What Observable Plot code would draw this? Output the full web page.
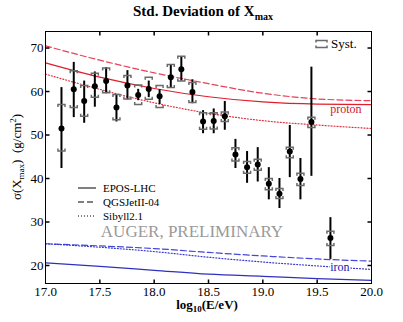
<!DOCTYPE html>
<html><head><meta charset="utf-8">
<script src="https://cdn.jsdelivr.net/npm/d3@7"></script>
<script src="https://cdn.jsdelivr.net/npm/@observablehq/plot@0.6"></script>
<style>body{margin:0;background:#fff}</style>
</head><body><div id="chart"></div>
<script>
// Data points: log10(E/eV), sigma(Xmax), stat and syst bounds
const energy = [17.147, 17.26, 17.356, 17.454, 17.558, 17.653, 17.754, 17.853, 17.95, 18.05, 18.153, 18.25, 18.352, 18.45, 18.548, 18.65, 18.748, 18.855, 18.953, 19.055, 19.153, 19.248, 19.346, 19.447, 19.622];
const sigma  = [51.5, 60.5, 57.8, 61.2, 62.4, 56.3, 61.4, 59.2, 60.6, 58.9, 63.3, 65.1, 59.9, 53.1, 53.2, 54.3, 45.5, 42.6, 43.2, 38.8, 36.5, 46.2, 39.9, 53.0, 26.3];
const statLo = [42.3, 54.0, 52.7, 56.4, 59.5, 53.0, 58.1, 57.9, 58.6, 57.0, 60.9, 62.4, 57.2, 50.3, 50.3, 51.1, 42.3, 38.9, 39.2, 35.1, 33.1, 40.2, 35.1, 40.5, 21.4];
const statHi = [60.9, 66.7, 62.4, 64.5, 65.5, 59.1, 64.8, 60.5, 62.4, 60.4, 66.2, 67.9, 62.7, 55.6, 56.0, 57.7, 49.0, 46.2, 47.1, 42.5, 40.0, 52.2, 44.6, 65.6, 31.0];
const sysLo  = [46.3, 56.3, 54.3, 58.7, 59.7, 53.5, 58.3, 57.0, 58.2, 56.3, 60.9, 62.4, 57.5, 51.3, 51.4, 53.1, 44.0, 41.2, 41.9, 37.4, 35.4, 44.8, 38.4, 51.7, 24.6];
const sysHi  = [57.0, 64.8, 61.4, 64.2, 65.4, 59.3, 63.7, 61.5, 63.3, 61.4, 66.2, 68.1, 62.1, 55.1, 55.1, 55.3, 47.1, 43.9, 44.4, 40.0, 37.7, 47.2, 41.2, 54.1, 27.9];

// Model predictions
const modelEnergy  = [17.0, 17.5, 18.0, 18.5, 19.0, 19.5, 20.0];
const eposProton   = [66.6, 63.3, 60.7, 58.8, 57.6, 57.1, 57.0];
const qgsProton    = [70.5, 67.2, 64.3, 61.8, 59.6, 58.3, 57.9];
const sibyllProton = [64.0, 60.5, 57.4, 55.0, 53.3, 52.3, 51.5];
const eposIron     = [20.6, 19.8, 18.9, 18.0, 17.5, 17.0, 16.6];
const qgsIron      = [25.0, 24.5, 23.9, 23.0, 22.2, 21.5, 21.0];
const sibyllIron   = [25.0, 24.2, 23.2, 21.9, 20.8, 19.9, 19.1];

const modelNames = ["EPOS-LHC", "QGSJetII-04", "Sibyll2.1"];
const xTicks = [17.0, 17.5, 18.0, 18.5, 19.0, 19.5, 20.0];
const yTicks = [20, 30, 40, 50, 60, 70];

const points = energy.map((E, i) => ({E, s: sigma[i], lo: statLo[i], hi: statHi[i], slo: sysLo[i], shi: sysHi[i]}));

const models = [
  {name: modelNames[0], particle: "proton", values: eposProton},
  {name: modelNames[1], particle: "proton", values: qgsProton},
  {name: modelNames[2], particle: "proton", values: sibyllProton},
  {name: modelNames[0], particle: "iron", values: eposIron},
  {name: modelNames[1], particle: "iron", values: qgsIron},
  {name: modelNames[2], particle: "iron", values: sibyllIron}
];
const colors = {
  proton: {"EPOS-LHC": "#e01e2c", "QGSJetII-04": "#e8405a", "Sibyll2.1": "#e03040"},
  iron: {"EPOS-LHC": "#3030c0", "QGSJetII-04": "#4646dc", "Sibyll2.1": "#3a3ad0"}
};
const dashes = {"EPOS-LHC": null, "QGSJetII-04": "6,3", "Sibyll2.1": "1,2"};

const seg = (x1, y1, x2, y2) => ({draw(ctx) { ctx.moveTo(x1, y1); ctx.lineTo(x2, y2); }});
const cap = (d) => ({draw(ctx) { ctx.moveTo(-3.5, d); ctx.lineTo(-3.5, 0); ctx.lineTo(3.5, 0); ctx.lineTo(3.5, d); }});

const lineMarks = models.map(m => Plot.line(
  modelEnergy.map((E, i) => ({E, v: m.values[i]})),
  {x: "E", y: "v", stroke: colors[m.particle][m.name], strokeWidth: 1.2,
   strokeDasharray: dashes[m.name], curve: "monotone-x"}
));

const last = modelEnergy.length - 1;

const svgEl = Plot.plot({
  width: 403, height: 322,
  marginLeft: 45, marginRight: 32, marginTop: 31, marginBottom: 39,
  x: {domain: [17, 20]},
  y: {domain: [15.86, 73.8]},
  style: {fontFamily: "'Liberation Serif', 'Times New Roman', serif", fontSize: "13px", color: "black", background: "white"},
  marks: [
    ...lineMarks,
    Plot.text(["proton"], {x: () => modelEnergy[last], y: () => eposProton[last], text: d => d,
      textAnchor: "end", dx: -10, dy: 5, fill: "#d01828", fontSize: 12}),
    Plot.text(["iron"], {x: () => modelEnergy[last], y: () => qgsIron[last], text: d => d,
      textAnchor: "end", dx: -22, dy: 6, fill: "#2020b0", fontSize: 12, stroke: "white", strokeWidth: 3, paintOrder: "stroke"}),
    Plot.ruleX(points, {x: "E", y1: "lo", y2: "hi", stroke: "black", strokeWidth: 2}),
    Plot.dot(points, {x: "E", y: "shi", symbol: cap(2.5), stroke: "#6a6a6a", strokeWidth: 1.5, fill: "none"}),
    Plot.dot(points, {x: "E", y: "slo", symbol: cap(-2.5), stroke: "#6a6a6a", strokeWidth: 1.5, fill: "none"}),
    Plot.dot(points, {x: "E", y: "s", r: 3, fill: "black"}),
    Plot.frame({stroke: "black", strokeWidth: 1}),
    Plot.dot(yTicks, {y: d => d, frameAnchor: "left", symbol: seg(0, 0, 4, 0), stroke: "black", fill: "none"}),
    Plot.dot(yTicks, {y: d => d, frameAnchor: "right", symbol: seg(0, 0, -4, 0), stroke: "black", fill: "none"}),
    Plot.dot(xTicks.slice(1, -1), {x: d => d, frameAnchor: "top", symbol: seg(0, 0, 0, 4), stroke: "black", fill: "none"}),
    Plot.dot(xTicks.slice(1, -1), {x: d => d, frameAnchor: "bottom", symbol: seg(0, 0, 0, -4), stroke: "black", fill: "none"}),
    Plot.axisX(xTicks, {tickSize: 0, tickPadding: 3, tickFormat: d3.format(".1f"), label: null}),
    Plot.axisY(yTicks, {tickSize: 0, tickPadding: 2, label: null})
  ]
});
document.getElementById("chart").appendChild(svgEl);

const svg = d3.select(svgEl);
const serif = "'Liberation Serif', 'Times New Roman', serif";

// Title
const t = svg.append("text").attr("x", 203).attr("y", 16).attr("text-anchor", "middle")
  .attr("font-family", serif).attr("font-size", 15).attr("font-weight", "bold").attr("fill", "black");
t.append("tspan").text("Std. Deviation of X");
t.append("tspan").attr("font-size", 10).attr("dy", 4).text("max");

// X label
const xl = svg.append("text").attr("x", 207).attr("y", 309).attr("text-anchor", "middle")
  .attr("font-family", serif).attr("font-size", 13).attr("font-weight", "bold").attr("fill", "black");
xl.append("tspan").text("log");
xl.append("tspan").attr("font-size", 9).attr("dy", 3).text("10");
xl.append("tspan").attr("dy", -3).text("(E/eV)");

// Y label
const yl = svg.append("text").attr("transform", "translate(21,157) rotate(-90)").attr("text-anchor", "middle")
  .attr("font-family", serif).attr("font-size", 13).attr("fill", "black");
yl.append("tspan").text("σ(X");
yl.append("tspan").attr("font-size", 9).attr("dy", 3).text("max");
yl.append("tspan").attr("dy", -3).text(")\u00a0\u00a0(g/cm");
yl.append("tspan").attr("font-size", 9).attr("dy", -5).text("2");
yl.append("tspan").attr("dy", 5).text(")");

// Watermark
svg.append("text").attr("x", 192).attr("y", 237).attr("text-anchor", "middle")
  .attr("font-family", serif).attr("font-size", 17).attr("fill", "#9a9a9a").text("AUGER, PRELIMINARY");

// Model legend
const lg = svg.append("g");
modelNames.forEach((name, i) => {
  const y = 188 + i * 14;
  lg.append("line").attr("x1", 78).attr("x2", 96).attr("y1", y).attr("y2", y)
    .attr("stroke", "black").attr("stroke-width", 1).attr("stroke-dasharray", dashes[name]);
  lg.append("text").attr("x", 103).attr("y", y + 3.5).attr("text-anchor", "start")
    .attr("font-family", serif).attr("font-size", 11).attr("fill", "black").text(name);
});

// Syst legend
const sg = svg.append("g").attr("stroke", "#6a6a6a").attr("stroke-width", 1.5).attr("fill", "none");
sg.append("path").attr("d", "M316,42.5V40.5H327V42.5");
sg.append("path").attr("d", "M316,45.5V47.5H327V45.5");
svg.append("text").attr("x", 331).attr("y", 48).attr("text-anchor", "start")
  .attr("font-family", serif).attr("font-size", 13).attr("fill", "black").text("Syst.");
</script>
</body></html>
